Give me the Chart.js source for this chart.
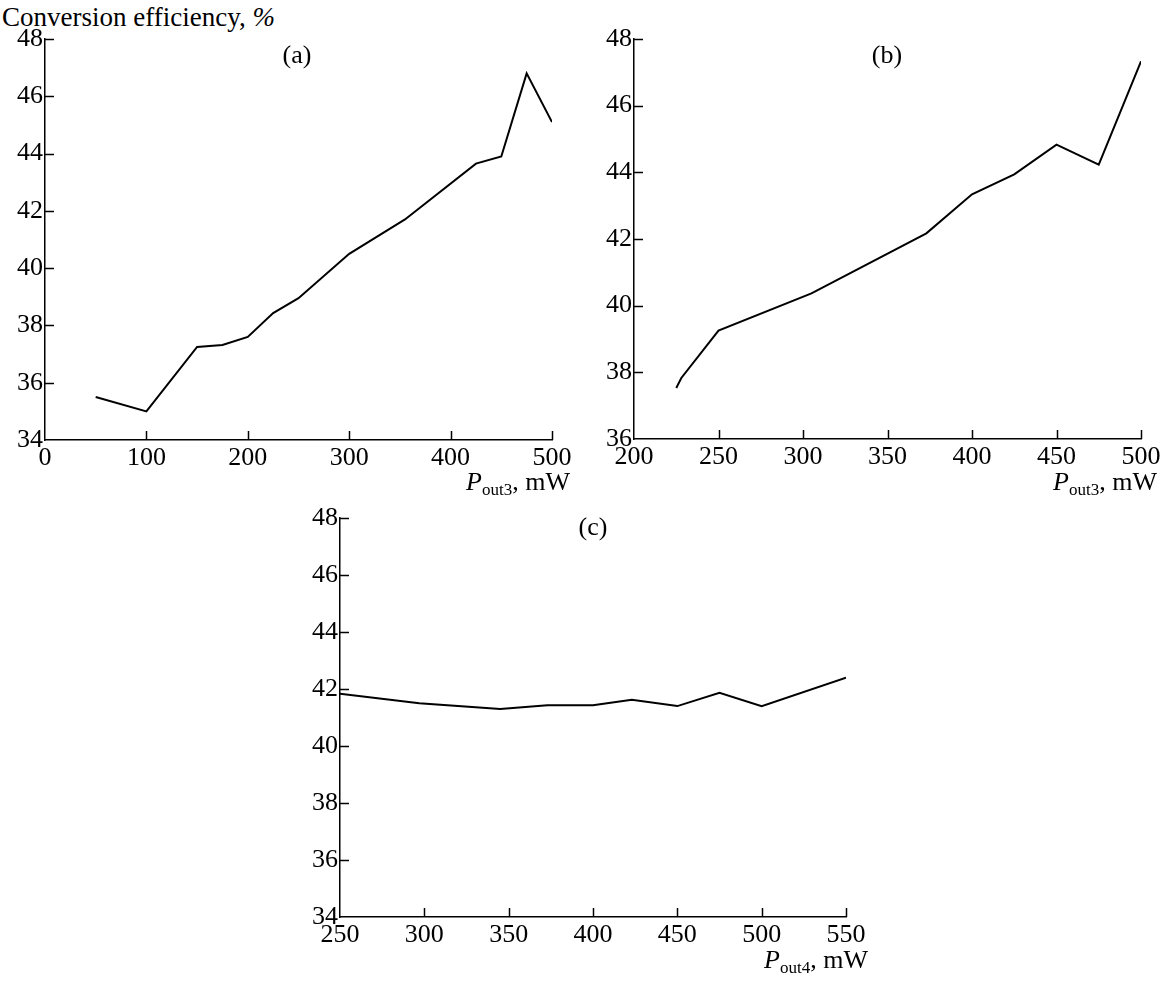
<!DOCTYPE html>
<html>
<head>
<meta charset="utf-8">
<script src="https://cdn.jsdelivr.net/npm/chart.js@4/dist/chart.umd.min.js"></script>
<style>
  html, body { margin: 0; padding: 0; background: #fff; }
  body { width: 1164px; height: 981px; position: relative; overflow: hidden;
         font-family: 'Liberation Serif', 'Times New Roman', serif; color: #000; }
  .panel { position: absolute; }
  .txt { position: absolute; font-size: 26px; line-height: 26px; white-space: nowrap; }
  .lbl { width: 60px; text-align: center; }
  .xt { text-align: right; }
  .xt .sub { font-size: 17px; position: relative; top: 5px; }
</style>
</head>
<body>

<div class="txt" style="left:2px; top:4px; font-size:27px; line-height:27px;">Conversion efficiency, <i>%</i></div>

<div class="panel" style="left:0; top:0;"><canvas id="chartA" width="600" height="480"></canvas></div>
<div class="panel" style="left:580px; top:0;"><canvas id="chartB" width="584" height="480"></canvas></div>
<div class="panel" style="left:280px; top:480px;"><canvas id="chartC" width="600" height="501"></canvas></div>

<div class="txt lbl" style="left:267px; top:42px;">(a)</div>
<div class="txt lbl" style="left:857px; top:42px;">(b)</div>
<div class="txt lbl" style="left:563px; top:514px;">(c)</div>

<div class="txt xt" style="right:594px; top:469px;"><i>P</i><span class="sub">out3</span>, mW</div>
<div class="txt xt" style="right:7px; top:469px;"><i>P</i><span class="sub">out3</span>, mW</div>
<div class="txt xt" style="right:296px; top:947px;"><i>P</i><span class="sub">out4</span>, mW</div>

<script>
// (a) conversion efficiency vs P_out3
const powerA = [50, 100, 150, 175, 200, 225, 250, 300, 355, 425, 450, 475, 500];
const effA = [35.5, 35.0, 37.25, 37.32, 37.6, 38.43, 38.95, 40.5, 41.7, 43.65, 43.9, 46.8, 45.1];

// (b) conversion efficiency vs P_out3
const powerB = [225, 228, 250, 305, 373, 400, 425, 450, 475, 500];
const effB = [37.53, 37.83, 39.25, 40.37, 42.17, 43.34, 43.94, 44.83, 44.23, 47.33];

// (c) conversion efficiency vs P_out4
const powerC = [250, 297, 345, 373, 400, 423, 450, 475, 500, 550];
const effC = [41.83, 41.5, 41.3, 41.43, 41.43, 41.62, 41.4, 41.87, 41.4, 42.4];

const FONT = { family: "'Liberation Serif', 'Times New Roman', serif", size: 26 };

// tick marks drawn inside the plot area, like the printed figure
const inwardTicks = {
  id: 'inwardTicks',
  afterDraw(chart) {
    const { ctx, chartArea, scales: { x, y } } = chart;
    ctx.save();
    ctx.strokeStyle = '#000';
    ctx.lineWidth = 1.5;
    x.ticks.forEach(t => {
      if (t.value === x.min) return;
      const px = Math.round(x.getPixelForValue(t.value)) + 0.5;
      ctx.beginPath();
      ctx.moveTo(px, chartArea.bottom);
      ctx.lineTo(px, chartArea.bottom - 9);
      ctx.stroke();
    });
    y.ticks.forEach(t => {
      if (t.value === y.min) return;
      const py = Math.round(y.getPixelForValue(t.value)) + 0.5;
      ctx.beginPath();
      ctx.moveTo(chartArea.left, py);
      ctx.lineTo(chartArea.left + 9, py);
      ctx.stroke();
    });
    ctx.restore();
  }
};

const makeChart = (id, xs, ys, opts) => {
  const points = xs.map((v, i) => ({ x: v, y: ys[i] }));
  return new Chart(document.getElementById(id), {
    type: 'line',
    data: {
      datasets: [{
        data: points,
        borderColor: '#000',
        borderWidth: 2,
        pointRadius: 0,
        tension: 0,
        fill: false
      }]
    },
    options: {
      responsive: false,
      animation: false,
      devicePixelRatio: 1,
      layout: { padding: opts.padding },
      plugins: { legend: { display: false }, tooltip: { enabled: false } },
      scales: {
        x: {
          type: 'linear',
          min: opts.xMin, max: opts.xMax,
          ticks: { stepSize: opts.xStep, color: '#000', font: FONT, padding: 3, maxRotation: 0, autoSkip: false },
          grid: { display: true, drawOnChartArea: false, drawTicks: false },
          border: { display: true, color: '#000', width: 1.5 },
          afterFit: s => { s.height = opts.xHeight; }
        },
        y: {
          min: opts.yMin, max: opts.yMax,
          ticks: { stepSize: 2, color: '#000', font: FONT, padding: 2 },
          grid: { display: true, drawOnChartArea: false, drawTicks: false },
          border: { display: true, color: '#000', width: 1.5 },
          afterFit: s => { s.width = opts.yWidth; }
        }
      }
    },
    plugins: [inwardTicks]
  });
};

makeChart('chartA', powerA, effA, {
  xMin: 0, xMax: 500, xStep: 100, yMin: 34, yMax: 48,
  yWidth: 45, xHeight: 40,
  padding: { left: 0, right: 48, top: 39, bottom: 0 }
});

makeChart('chartB', powerB, effB, {
  xMin: 200, xMax: 500, xStep: 50, yMin: 36, yMax: 48,
  yWidth: 54, xHeight: 41,
  padding: { left: 0, right: 23, top: 39, bottom: 0 }
});

makeChart('chartC', powerC, effC, {
  xMin: 250, xMax: 550, xStep: 50, yMin: 34, yMax: 48,
  yWidth: 60, xHeight: 64,
  padding: { left: 0, right: 34, top: 38, bottom: 0 }
});
</script>
</body>
</html>
